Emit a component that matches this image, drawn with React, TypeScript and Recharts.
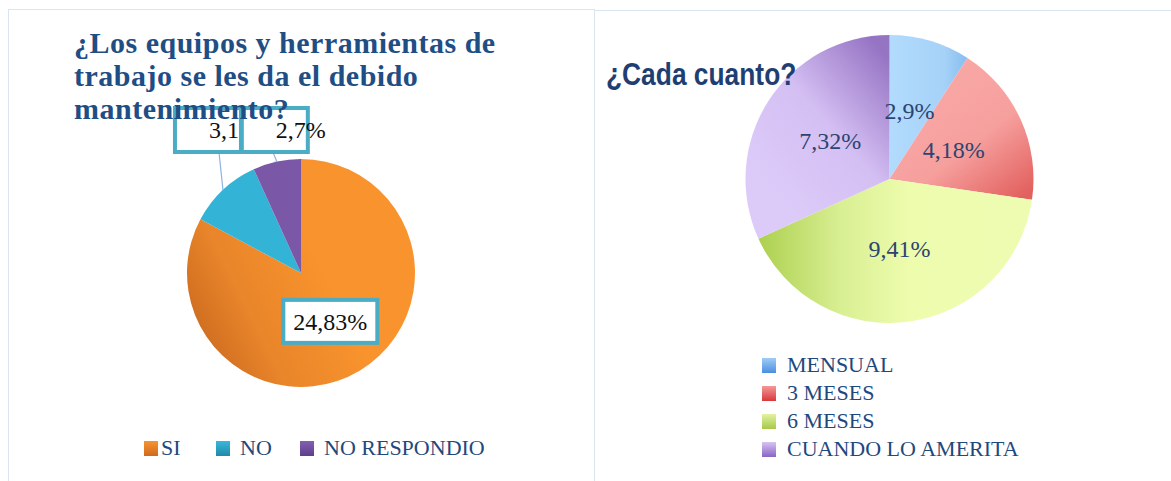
import React from "react";
import { PieChart, Pie, Cell, Legend } from "recharts";

// ─── datos ───────────────────────────────────────────
const leftNames = ["SI", "NO", "NO RESPONDIO"];
const leftShare = [82.8, 10.4, 6.8]; // tamaño visible de cada porción
const leftLabels = ["24,83%", "3,1", "2,7%"];

const rightNames = ["MENSUAL", "3 MESES", "6 MESES", "CUANDO LO AMERITA"];
const rightShare = [9.1, 18.2, 40.9, 31.8];
const rightLabels = ["2,9%", "4,18%", "9,41%", "7,32%"];

const leftFills = ["url(#gSi)", "#33b3d6", "#7b57a7"];
const leftSwatch = [
  "linear-gradient(#f7942f, #cf6a1e)",
  "linear-gradient(#38b8da, #2189a8)",
  "linear-gradient(#8460b0, #5e3f8a)",
];
const rightFills = ["url(#gMen)", "url(#g3m)", "url(#g6m)", "url(#gCua)"];
const rightSwatch = [
  "linear-gradient(#9fcdf6, #4b8ee0)",
  "linear-gradient(#f39a98, #d9383a)",
  "linear-gradient(#e3f2a0, #a6c84a)",
  "linear-gradient(#d6c3f4, #8a64c2)",
];

const leftData = leftNames.map((name, i) => ({ name, value: leftShare[i], label: leftLabels[i] }));
const rightData = rightNames.map((name, i) => ({ name, value: rightShare[i], label: rightLabels[i] }));

const RADIAN = Math.PI / 180;
const BOX = "#4bacc6";
const SERIF = "'Liberation Serif', 'DejaVu Serif', serif";
const TEXT_BLUE = "#1f497d";

// etiquetas con recuadro (gráfico izquierdo)
const renderLeftLabel = (p: any) => {
  const { cx, cy, midAngle, outerRadius, index } = p;
  const text = leftLabels[index];
  if (index === 0) {
    const r = outerRadius * 0.5;
    const x = cx + r * Math.cos(-midAngle * RADIAN);
    const y = cy + r * Math.sin(-midAngle * RADIAN);
    return (
      <g>
        <rect x={x - 47} y={y - 22} width={94} height={43} fill="#fff" stroke={BOX} strokeWidth={4} />
        <text x={x} y={y} textAnchor="middle" dominantBaseline="central" fontSize={24} fontFamily={SERIF} fill="#111">
          {text}
        </text>
      </g>
    );
  }
  const ax = cx + outerRadius * Math.cos(-midAngle * RADIAN);
  const ay = cy + outerRadius * Math.sin(-midAngle * RADIAN);
  const shift = index === 1 ? -15 : -2;
  const bw = 66;
  const bh = 44;
  const bottom = cy - outerRadius - 7;
  const left = ax + shift - bw / 2;
  return (
    <g>
      <line x1={ax} y1={ay} x2={ax - 4} y2={bottom} stroke="#8db3e2" strokeWidth={1.2} />
      <rect x={left} y={bottom - bh} width={bw} height={bh} fill="#fff" stroke={BOX} strokeWidth={4} />
      <text x={left + 34} y={bottom - bh / 2} dominantBaseline="central" fontSize={24} fontFamily={SERIF} fill="#111">
        {text}
      </text>
    </g>
  );
};

const renderRightLabel = (p: any) => {
  const { cx, cy, midAngle, outerRadius, index } = p;
  const r = outerRadius * 0.49;
  const x = cx + r * Math.cos(-midAngle * RADIAN);
  const y = cy + r * Math.sin(-midAngle * RADIAN);
  return (
    <text x={x} y={y} textAnchor="middle" dominantBaseline="central" fontSize={24} fontFamily={SERIF} fill="#2d4470">
      {rightLabels[index]}
    </text>
  );
};

const LeftLegend = () => (
  <div style={{ display: "flex", alignItems: "center", fontFamily: SERIF, fontSize: 22, color: TEXT_BLUE }}>
    {leftNames.map((n, i) => (
      <div key={n} style={{ display: "flex", alignItems: "center", width: i === 0 ? 72 : i === 1 ? 84 : 220 }}>
        <span style={{ width: 14, height: 15, background: leftSwatch[i], marginRight: i === 0 ? 3 : 10, flex: "none" }} />
        <span>{n}</span>
      </div>
    ))}
  </div>
);

const RightLegend = () => (
  <div style={{ fontFamily: SERIF, fontSize: 22, color: TEXT_BLUE }}>
    {rightNames.map((n, i) => (
      <div key={n} style={{ display: "flex", alignItems: "center", height: 28 }}>
        <span style={{ width: 14, height: 15, background: rightSwatch[i], marginRight: 11, flex: "none" }} />
        <span>{n}</span>
      </div>
    ))}
  </div>
);

export default function App() {
  return (
    <div style={{ position: "absolute", left: 0, top: 0, width: 1171, height: 481, background: "#fff", overflow: "hidden" }}>
      {/* marcos */}
      <div style={{ position: "absolute", left: 8, top: 9, width: 585, height: 490, border: "1px solid #dbe5f1" }} />
      <div style={{ position: "absolute", left: 595, top: 10, width: 600, height: 490, borderTop: "1px solid #dbe5f1" }} />

      {/* ─ Gráfico izquierdo ─ */}
      <div style={{ position: "absolute", left: 8, top: 9 }}>
        <PieChart width={585} height={472} margin={{ top: 0, right: 0, bottom: 0, left: 0 }}>
          <defs>
            <linearGradient id="gSi" x1="0" y1="0.8" x2="0.6" y2="0.5">
              <stop offset="0%" stopColor="#c9681f" />
              <stop offset="45%" stopColor="#e9852a" />
              <stop offset="100%" stopColor="#f8932d" />
            </linearGradient>
          </defs>
          <Pie
            data={leftData}
            dataKey="value"
            nameKey="name"
            cx={293}
            cy={264}
            outerRadius={114}
            startAngle={90}
            endAngle={-270}
            stroke="none"
            labelLine={false}
            label={renderLeftLabel}
            isAnimationActive={false}
          >
            {leftData.map((_, i) => (
              <Cell key={i} fill={leftFills[i]} />
            ))}
          </Pie>
          <Legend content={<LeftLegend />} wrapperStyle={{ position: "absolute", left: 136, top: 426, width: 420 }} />
        </PieChart>
      </div>

      {/* ─ Gráfico derecho ─ */}
      <div style={{ position: "absolute", left: 594, top: 10 }}>
        <PieChart width={577} height={471} margin={{ top: 0, right: 0, bottom: 0, left: 0 }}>
          <defs>
            <linearGradient id="gMen" x1="0" y1="0" x2="1" y2="0">
              <stop offset="0%" stopColor="#b2dbfd" />
              <stop offset="70%" stopColor="#a6d2f8" />
              <stop offset="100%" stopColor="#86bdee" />
            </linearGradient>
            <linearGradient id="g3m" x1="0.2" y1="0.1" x2="0.9" y2="1">
              <stop offset="0%" stopColor="#f9a9a7" />
              <stop offset="55%" stopColor="#f6a09e" />
              <stop offset="100%" stopColor="#e2615f" />
            </linearGradient>
            <linearGradient id="g6m" x1="0" y1="0.3" x2="1" y2="0.3">
              <stop offset="0%" stopColor="#acd04f" />
              <stop offset="30%" stopColor="#d9ef93" />
              <stop offset="55%" stopColor="#edfcad" />
              <stop offset="100%" stopColor="#eefcb2" />
            </linearGradient>
            <linearGradient id="gCua" x1="0.2" y1="0.8" x2="0.85" y2="0">
              <stop offset="0%" stopColor="#dccbf9" />
              <stop offset="50%" stopColor="#d4bff3" />
              <stop offset="100%" stopColor="#9674c4" />
            </linearGradient>
          </defs>
          <Pie
            data={rightData}
            dataKey="value"
            nameKey="name"
            cx={295.5}
            cy={169}
            outerRadius={144}
            startAngle={90}
            endAngle={-270}
            stroke="none"
            labelLine={false}
            label={renderRightLabel}
            isAnimationActive={false}
          >
            {rightData.map((_, i) => (
              <Cell key={i} fill={rightFills[i]} />
            ))}
          </Pie>
          <Legend content={<RightLegend />} wrapperStyle={{ position: "absolute", left: 168, top: 341, width: 300 }} />
        </PieChart>
      </div>

      {/* títulos */}
      <div
        style={{
          position: "absolute",
          left: 74,
          top: 26,
          width: 520,
          fontFamily: SERIF,
          fontWeight: 700,
          fontSize: 30,
          letterSpacing: 0.5,
          lineHeight: "33px",
          color: "#1f4e85",
        }}
      >
        ¿Los equipos y herramientas de
        <br />
        trabajo se les da el debido
        <br />
        mantenimiento?
      </div>
      <div
        style={{
          position: "absolute",
          left: 606,
          top: 55,
          fontFamily: "'Liberation Sans Narrow', 'Liberation Sans', Arial, sans-serif",
          fontWeight: 700,
          fontSize: 31,
          lineHeight: "40px",
          color: "#1f3f73",
          whiteSpace: "nowrap",
          transform: "scaleX(0.85)",
          transformOrigin: "left center",
        }}
      >
        ¿Cada cuanto?
      </div>
    </div>
  );
}
